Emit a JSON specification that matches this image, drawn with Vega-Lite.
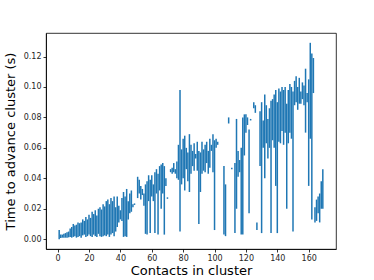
{
  "$schema": "https://vega.github.io/schema/vega-lite/v6.json",
  "autosize": {"type": "none"},
  "padding": {"left": 46, "top": 33, "right": 38, "bottom": 31},
  "width": 290,
  "height": 216,
  "background": "white",
  "config": {
    "view": {"stroke": "#000000", "strokeWidth": 0.8},
    "axis": {
      "grid": false,
      "domainColor": "#000000",
      "domainWidth": 0.8,
      "tickColor": "#000000",
      "tickWidth": 0.8,
      "tickSize": 3,
      "labelFont": "DejaVu Sans",
      "labelFontSize": 8,
      "labelColor": "#262626",
      "titleFont": "DejaVu Sans",
      "titleFontSize": 13,
      "titleFontWeight": "normal",
      "titleColor": "#000000"
    }
  },
  "data": {
    "values": [
      {"x": 1, "lo": 0.000, "hi": 0.006},
      {"x": 2, "lo": 0.0008, "hi": 0.003},
      {"x": 3, "lo": 0.001, "hi": 0.003},
      {"x": 4, "lo": 0.001, "hi": 0.0035},
      {"x": 5, "lo": 0.001, "hi": 0.004},
      {"x": 6, "lo": 0.001, "hi": 0.0045},
      {"x": 7, "lo": 0.0012, "hi": 0.005},
      {"x": 8, "lo": 0.0015, "hi": 0.007},
      {"x": 9, "lo": 0.001, "hi": 0.008},
      {"x": 10, "lo": 0.0015, "hi": 0.010},
      {"x": 11, "lo": 0.002, "hi": 0.009},
      {"x": 12, "lo": 0.001, "hi": 0.0095},
      {"x": 13, "lo": 0.0015, "hi": 0.011},
      {"x": 14, "lo": 0.002, "hi": 0.0105},
      {"x": 15, "lo": 0.001, "hi": 0.011},
      {"x": 16, "lo": 0.0025, "hi": 0.013},
      {"x": 17, "lo": 0.003, "hi": 0.012},
      {"x": 18, "lo": 0.0015, "hi": 0.0145},
      {"x": 19, "lo": 0.002, "hi": 0.013},
      {"x": 20, "lo": 0.003, "hi": 0.016},
      {"x": 21, "lo": 0.002, "hi": 0.014},
      {"x": 22, "lo": 0.0015, "hi": 0.018},
      {"x": 23, "lo": 0.003, "hi": 0.0165},
      {"x": 24, "lo": 0.002, "hi": 0.019},
      {"x": 25, "lo": 0.0015, "hi": 0.0155},
      {"x": 26, "lo": 0.0035, "hi": 0.020},
      {"x": 27, "lo": 0.002, "hi": 0.021},
      {"x": 28, "lo": 0.0015, "hi": 0.0195},
      {"x": 29, "lo": 0.002, "hi": 0.023},
      {"x": 30, "lo": 0.0025, "hi": 0.0215},
      {"x": 31, "lo": 0.002, "hi": 0.025},
      {"x": 32, "lo": 0.003, "hi": 0.026},
      {"x": 33, "lo": 0.0015, "hi": 0.023},
      {"x": 34, "lo": 0.003, "hi": 0.027},
      {"x": 35, "lo": 0.004, "hi": 0.025},
      {"x": 36, "lo": 0.002, "hi": 0.028},
      {"x": 37, "lo": 0.005, "hi": 0.021},
      {"x": 38, "lo": 0.008, "hi": 0.028},
      {"x": 39, "lo": 0.011, "hi": 0.022},
      {"x": 40, "lo": 0.013, "hi": 0.019},
      {"x": 41, "lo": 0.012, "hi": 0.027},
      {"x": 42, "lo": 0.0015, "hi": 0.031},
      {"x": 43, "lo": 0.002, "hi": 0.028},
      {"x": 44, "lo": 0.0015, "hi": 0.033},
      {"x": 45, "lo": 0.013, "hi": 0.025},
      {"x": 46, "lo": 0.017, "hi": 0.030},
      {"x": 47, "lo": 0.018, "hi": 0.032},
      {"x": 48, "lo": 0.021, "hi": 0.023},
      {"x": 49, "lo": 0.0225, "hi": 0.0235},
      {"x": 51, "lo": 0.027, "hi": 0.041},
      {"x": 52, "lo": 0.030, "hi": 0.039},
      {"x": 53, "lo": 0.026, "hi": 0.035},
      {"x": 54, "lo": 0.029, "hi": 0.033},
      {"x": 55, "lo": 0.022, "hi": 0.030},
      {"x": 56, "lo": 0.0035, "hi": 0.036},
      {"x": 57, "lo": 0.003, "hi": 0.038},
      {"x": 58, "lo": 0.025, "hi": 0.042},
      {"x": 59, "lo": 0.004, "hi": 0.039},
      {"x": 60, "lo": 0.028, "hi": 0.042},
      {"x": 61, "lo": 0.025, "hi": 0.036},
      {"x": 62, "lo": 0.004, "hi": 0.044},
      {"x": 63, "lo": 0.030, "hi": 0.046},
      {"x": 64, "lo": 0.003, "hi": 0.043},
      {"x": 65, "lo": 0.032, "hi": 0.048},
      {"x": 66, "lo": 0.020, "hi": 0.049},
      {"x": 67, "lo": 0.030, "hi": 0.050},
      {"x": 68, "lo": 0.003, "hi": 0.048},
      {"x": 69, "lo": 0.035, "hi": 0.040},
      {"x": 70, "lo": 0.0265, "hi": 0.0275},
      {"x": 72, "lo": 0.044, "hi": 0.046},
      {"x": 73, "lo": 0.043, "hi": 0.047},
      {"x": 74, "lo": 0.044, "hi": 0.050},
      {"x": 75, "lo": 0.043, "hi": 0.046},
      {"x": 76, "lo": 0.040, "hi": 0.051},
      {"x": 77, "lo": 0.039, "hi": 0.062},
      {"x": 78, "lo": 0.005, "hi": 0.098},
      {"x": 79, "lo": 0.036, "hi": 0.059},
      {"x": 80, "lo": 0.040, "hi": 0.066},
      {"x": 81, "lo": 0.032, "hi": 0.068},
      {"x": 82, "lo": 0.046, "hi": 0.060},
      {"x": 83, "lo": 0.038, "hi": 0.057},
      {"x": 84, "lo": 0.031, "hi": 0.069},
      {"x": 85, "lo": 0.043, "hi": 0.062},
      {"x": 86, "lo": 0.048, "hi": 0.058},
      {"x": 87, "lo": 0.045, "hi": 0.063},
      {"x": 88, "lo": 0.053, "hi": 0.056},
      {"x": 89, "lo": 0.045, "hi": 0.064},
      {"x": 90, "lo": 0.010, "hi": 0.058},
      {"x": 91, "lo": 0.031, "hi": 0.057},
      {"x": 92, "lo": 0.043, "hi": 0.064},
      {"x": 93, "lo": 0.045, "hi": 0.059},
      {"x": 94, "lo": 0.044, "hi": 0.062},
      {"x": 95, "lo": 0.050, "hi": 0.064},
      {"x": 96, "lo": 0.043, "hi": 0.058},
      {"x": 97, "lo": 0.047, "hi": 0.066},
      {"x": 98, "lo": 0.058, "hi": 0.062},
      {"x": 99, "lo": 0.044, "hi": 0.069},
      {"x": 100, "lo": 0.006, "hi": 0.065},
      {"x": 101, "lo": 0.060, "hi": 0.066},
      {"x": 102, "lo": 0.062, "hi": 0.064},
      {"x": 106, "lo": 0.003, "hi": 0.048},
      {"x": 107, "lo": 0.002, "hi": 0.036},
      {"x": 109, "lo": 0.076, "hi": 0.080},
      {"x": 111, "lo": 0.046, "hi": 0.047},
      {"x": 113, "lo": 0.004, "hi": 0.050},
      {"x": 114, "lo": 0.020, "hi": 0.079},
      {"x": 115, "lo": 0.041, "hi": 0.058},
      {"x": 116, "lo": 0.044, "hi": 0.052},
      {"x": 117, "lo": 0.003, "hi": 0.060},
      {"x": 118, "lo": 0.003, "hi": 0.080},
      {"x": 119, "lo": 0.055, "hi": 0.082},
      {"x": 120, "lo": 0.070, "hi": 0.082},
      {"x": 121, "lo": 0.075, "hi": 0.080},
      {"x": 122, "lo": 0.017, "hi": 0.072},
      {"x": 123, "lo": 0.078, "hi": 0.079},
      {"x": 125, "lo": 0.086, "hi": 0.090},
      {"x": 126, "lo": 0.083, "hi": 0.088},
      {"x": 127, "lo": 0.006, "hi": 0.011},
      {"x": 129, "lo": 0.048, "hi": 0.084},
      {"x": 130, "lo": 0.004, "hi": 0.090},
      {"x": 131, "lo": 0.060, "hi": 0.078},
      {"x": 132, "lo": 0.040, "hi": 0.095},
      {"x": 133, "lo": 0.063, "hi": 0.088},
      {"x": 134, "lo": 0.053, "hi": 0.079},
      {"x": 135, "lo": 0.060, "hi": 0.086},
      {"x": 136, "lo": 0.004, "hi": 0.091},
      {"x": 137, "lo": 0.065, "hi": 0.092},
      {"x": 138, "lo": 0.060, "hi": 0.095},
      {"x": 139, "lo": 0.035, "hi": 0.098},
      {"x": 140, "lo": 0.004, "hi": 0.090},
      {"x": 141, "lo": 0.064, "hi": 0.099},
      {"x": 142, "lo": 0.063, "hi": 0.097},
      {"x": 143, "lo": 0.071, "hi": 0.100},
      {"x": 144, "lo": 0.062, "hi": 0.098},
      {"x": 145, "lo": 0.070, "hi": 0.100},
      {"x": 146, "lo": 0.020, "hi": 0.089},
      {"x": 147, "lo": 0.063, "hi": 0.098},
      {"x": 148, "lo": 0.070, "hi": 0.102},
      {"x": 149, "lo": 0.066, "hi": 0.100},
      {"x": 150, "lo": 0.005, "hi": 0.097},
      {"x": 151, "lo": 0.088, "hi": 0.104},
      {"x": 152, "lo": 0.090, "hi": 0.107},
      {"x": 153, "lo": 0.085, "hi": 0.100},
      {"x": 154, "lo": 0.089, "hi": 0.106},
      {"x": 155, "lo": 0.089, "hi": 0.097},
      {"x": 156, "lo": 0.092, "hi": 0.103},
      {"x": 157, "lo": 0.088, "hi": 0.101},
      {"x": 158, "lo": 0.070, "hi": 0.112},
      {"x": 159, "lo": 0.090, "hi": 0.096},
      {"x": 160, "lo": 0.035, "hi": 0.105},
      {"x": 161, "lo": 0.066, "hi": 0.129},
      {"x": 162, "lo": 0.013, "hi": 0.122},
      {"x": 163, "lo": 0.096, "hi": 0.119},
      {"x": 164, "lo": 0.011, "hi": 0.021},
      {"x": 165, "lo": 0.012, "hi": 0.026},
      {"x": 166, "lo": 0.017, "hi": 0.028},
      {"x": 167, "lo": 0.011, "hi": 0.030},
      {"x": 168, "lo": 0.020, "hi": 0.038},
      {"x": 169, "lo": 0.020, "hi": 0.046}
    ]
  },
  "mark": {"type": "rule", "color": "#1f77b4", "strokeWidth": 1.5},
  "encoding": {
    "x": {
      "field": "x",
      "type": "quantitative",
      "scale": {"domain": [-7.4, 177.4], "nice": false, "zero": false},
      "axis": {"values": [0, 20, 40, 60, 80, 100, 120, 140, 160], "title": "Contacts in cluster", "titlePadding": 2}
    },
    "y": {
      "field": "lo",
      "type": "quantitative",
      "scale": {"domain": [-0.00645, 0.13545], "nice": false, "zero": false},
      "axis": {"values": [0, 0.02, 0.04, 0.06, 0.08, 0.1, 0.12], "format": ".2f", "title": "Time to advance cluster (s)", "titlePadding": 6}
    },
    "y2": {"field": "hi"}
  }
}
